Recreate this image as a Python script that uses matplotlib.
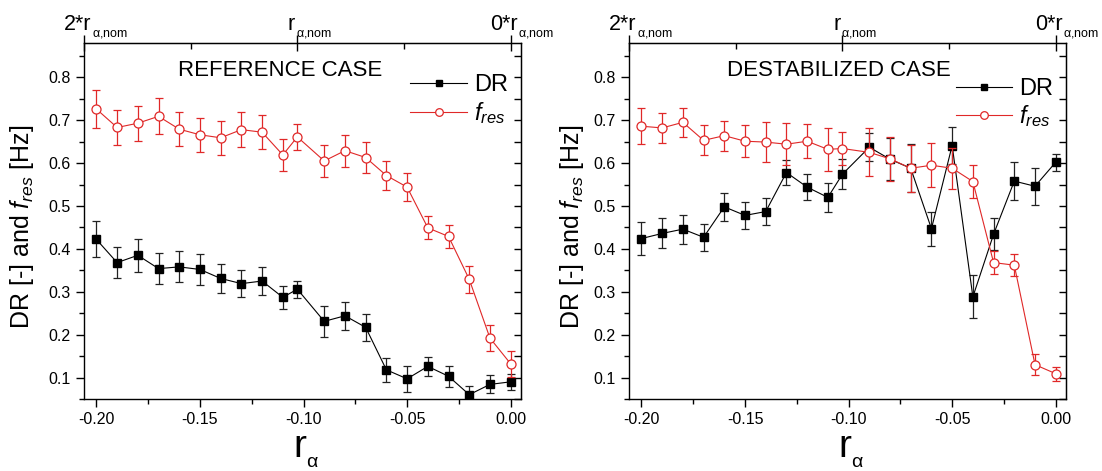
import numpy as np
import matplotlib
matplotlib.use("Agg")
import matplotlib.pyplot as plt
from matplotlib.lines import Line2D
from matplotlib.ticker import MultipleLocator, FormatStrFormatter

plt.rcParams['font.family'] = ['Liberation Sans', 'DejaVu Sans']
plt.rcParams['mathtext.fontset'] = 'custom'
plt.rcParams['mathtext.rm'] = 'Liberation Sans'
plt.rcParams['mathtext.it'] = 'Liberation Sans:italic'
plt.rcParams['mathtext.bf'] = 'Liberation Sans:bold'
plt.rcParams['axes.unicode_minus'] = False

# r_alpha values (nominal r_alpha = -0.103)
r_alpha = [-0.20, -0.19, -0.18, -0.17, -0.16, -0.15, -0.14, -0.13, -0.12, -0.11, -0.103,
           -0.09, -0.08, -0.07, -0.06, -0.05, -0.04, -0.03, -0.02, -0.01, 0.00]
r_nom = -0.103

# reference case
ref_dr = [0.422, 0.368, 0.385, 0.354, 0.358, 0.352, 0.331, 0.319, 0.325, 0.287, 0.306,
          0.231, 0.244, 0.217, 0.118, 0.097, 0.126, 0.103, 0.060, 0.084, 0.090]
ref_dr_err = [0.042, 0.037, 0.038, 0.036, 0.036, 0.036, 0.033, 0.032, 0.032, 0.027, 0.020,
              0.036, 0.033, 0.032, 0.028, 0.030, 0.023, 0.025, 0.020, 0.021, 0.018]
ref_fres = [0.726, 0.683, 0.693, 0.709, 0.679, 0.666, 0.659, 0.678, 0.672, 0.619, 0.661,
            0.605, 0.629, 0.613, 0.571, 0.544, 0.449, 0.429, 0.329, 0.192, 0.132]
ref_fres_err = [0.044, 0.041, 0.041, 0.042, 0.040, 0.040, 0.040, 0.040, 0.040, 0.037, 0.030,
                0.037, 0.037, 0.037, 0.034, 0.033, 0.027, 0.026, 0.032, 0.031, 0.031]

# destabilized case
des_dr = [0.424, 0.436, 0.446, 0.427, 0.498, 0.478, 0.487, 0.578, 0.544, 0.520, 0.574,
          0.637, 0.609, 0.588, 0.447, 0.641, 0.288, 0.434, 0.558, 0.546, 0.602]
des_dr_err = [0.038, 0.035, 0.034, 0.032, 0.032, 0.032, 0.032, 0.030, 0.031, 0.033, 0.035,
              0.033, 0.049, 0.056, 0.040, 0.044, 0.050, 0.037, 0.044, 0.043, 0.020]
des_fres = [0.686, 0.682, 0.695, 0.653, 0.664, 0.651, 0.649, 0.644, 0.651, 0.632, 0.634,
            0.625, 0.610, 0.588, 0.595, 0.588, 0.557, 0.368, 0.362, 0.130, 0.109]
des_fres_err = [0.042, 0.034, 0.034, 0.035, 0.035, 0.037, 0.046, 0.049, 0.039, 0.050, 0.039,
                0.056, 0.052, 0.055, 0.051, 0.048, 0.039, 0.026, 0.026, 0.025, 0.016]

# top axis: multiples of the nominal value
top_factors = [2, 1, 0]
top_main = ['2*r', 'r', '0*r']
top_sub = r'$\mathrm{\alpha}$,nom'

RED = '#E02828'


def draw_panel(ax, dr, dr_err, fres, fres_err, title, title_x, ylabel_x, leg_y):
    ax.errorbar(r_alpha, dr, yerr=dr_err, color='black', lw=0.8, marker='s', ms=6,
                mfc='black', mec='black', ecolor='#222222', elinewidth=0.9,
                capsize=3, capthick=0.9, zorder=2)
    ax.errorbar(r_alpha, fres, yerr=fres_err, color=RED, lw=0.8, marker='o', ms=6.5,
                mfc='white', mec=RED, mew=0.9, ecolor=RED, elinewidth=0.9,
                capsize=3, capthick=0.9, zorder=3)

    ax.set_xlim(2 * r_nom, 0.005)
    ax.set_ylim(0.05, 0.88)
    ax.xaxis.set_major_locator(MultipleLocator(0.05))
    ax.xaxis.set_minor_locator(MultipleLocator(0.025))
    ax.xaxis.set_major_formatter(FormatStrFormatter('%.2f'))
    ax.yaxis.set_major_locator(MultipleLocator(0.1))
    ax.yaxis.set_minor_locator(MultipleLocator(0.05))
    ax.yaxis.set_major_formatter(FormatStrFormatter('%.1f'))
    ax.tick_params(which='both', direction='out', labelsize=11.5, width=1.0)
    ax.tick_params(which='major', length=6)
    ax.tick_params(which='minor', length=3.5)
    ax.tick_params(top=False, right=False)
    for sp in ax.spines.values():
        sp.set_linewidth(1.0)

    # right axis: inward ticks, no labels
    sec_r = ax.secondary_yaxis('right')
    sec_r.yaxis.set_major_locator(MultipleLocator(0.05))
    sec_r.tick_params(direction='in', length=5, width=1.0, labelright=False)

    # top axis ticks, labels drawn by hand (small subscript)
    top_pos = [f * r_nom for f in top_factors]
    sec_t = ax.secondary_xaxis('top')
    sec_t.set_xticks(top_pos)
    sec_t.set_xticklabels(['', '', ''])
    sec_t.set_xticks([1.5 * r_nom, 0.5 * r_nom], minor=True)
    sec_t.tick_params(which='major', direction='inout', length=12, width=1.0)
    sec_t.tick_params(which='minor', direction='in', length=4, width=1.0)
    offsets = [5.5, -1.5, 5.0]
    for x, lab, off in zip(top_pos, top_main, offsets):
        ax.annotate(lab, xy=(x, 1), xycoords=('data', 'axes fraction'),
                    xytext=(off, 9.5), textcoords='offset points',
                    ha='right', va='baseline', fontsize=15.5)
        ax.annotate(top_sub, xy=(x, 1), xycoords=('data', 'axes fraction'),
                    xytext=(off + 0.6, 4.5), textcoords='offset points',
                    ha='left', va='baseline', fontsize=9)

    ax.text(title_x, 0.924, title, transform=ax.transAxes, fontsize=16,
            ha='center', va='center')

    ax.set_ylabel(r'DR [-] and $f_{res}$ [Hz]', fontsize=18)
    ax.yaxis.set_label_coords(ylabel_x, 0.485)

    ax.text(0.494, -0.163, 'r', transform=ax.transAxes, fontsize=28,
            ha='center', va='baseline')
    ax.text(0.507, -0.192, r'$\mathrm{\alpha}$', transform=ax.transAxes,
            fontsize=14, ha='left', va='baseline')

    handles = [Line2D([], [], color='black', lw=0.8, marker='s', ms=5,
                      mfc='black', mec='black'),
               Line2D([], [], color=RED, lw=0.8, marker='o', ms=5.5,
                      mfc='white', mec=RED, mew=0.9)]
    ax.legend(handles, ['DR', r'$f_{res}$'], loc='upper left',
              bbox_to_anchor=(0.72, leg_y), frameon=False,
              fontsize=17, handlelength=2.4, handletextpad=0.3, labelspacing=0.15,
              borderpad=0, numpoints=1)


fig = plt.figure(figsize=(11.02, 4.71), dpi=100)
ax1 = fig.add_axes([0.0762, 0.1529, 0.3966, 0.7558])
ax2 = fig.add_axes([0.5708, 0.1529, 0.3966, 0.7558])

draw_panel(ax1, ref_dr, ref_dr_err, ref_fres, ref_fres_err, 'REFERENCE CASE', 0.449, -0.11, 0.945)
draw_panel(ax2, des_dr, des_dr_err, des_fres, des_fres_err, 'DESTABILIZED CASE', 0.48, -0.098, 0.935)

fig.savefig('out.png', dpi=100)
